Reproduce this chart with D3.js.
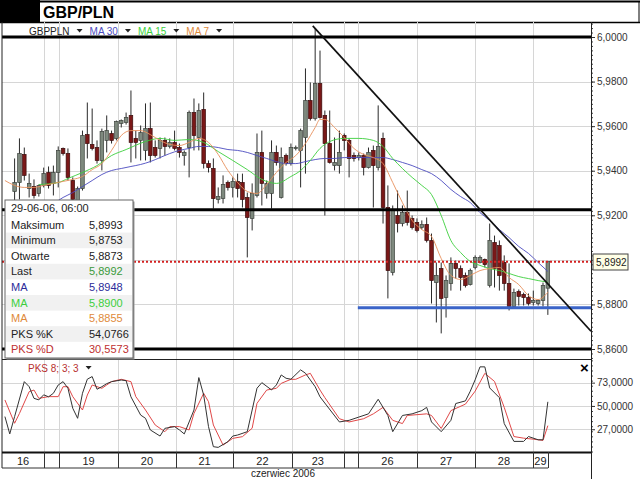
<!DOCTYPE html>
<html>
<head>
<meta charset="utf-8">
<title>GBP/PLN</title>
<script src="https://cdn.jsdelivr.net/npm/d3@7"></script>
<style>
  body { margin: 0; background: #fff; }
  svg { display: block; font-family: Arial, "Liberation Sans", sans-serif; }
</style>
</head>
<body>
<svg id="chart" width="640" height="479"></svg>
<script>
// === DANE ===
// świece 2-godzinne: [open, high, low, close], indeks = numer slotu
const candles = [
  [5.9307,5.9455,5.9253,5.9347],[5.9347,5.9545,5.9271,5.9477],[5.9473,5.9504,5.9356,5.9379],
  [5.9320,5.9387,5.9280,5.9343],[5.9329,5.9361,5.9275,5.9289],[5.9298,5.9338,5.9284,5.9334],
  [5.9334,5.9414,5.9325,5.9387],[5.9392,5.9419,5.9320,5.9334],[5.9343,5.9423,5.9289,5.9392],
  [5.9392,5.9509,5.9325,5.9491],[5.9500,5.9504,5.9468,5.9477],[5.9477,5.9500,5.9356,5.9370],
  [5.9356,5.9370,5.9244,5.9271],[5.9266,5.9329,5.9244,5.9320],[5.9320,5.9580,5.9311,5.9558],
  [5.9562,5.9706,5.9455,5.9522],[5.9518,5.9679,5.9491,5.9500],[5.9504,5.9536,5.9432,5.9446],
  [5.9446,5.9589,5.9401,5.9576],[5.9536,5.9648,5.9482,5.9580],[5.9567,5.9580,5.9522,5.9536],
  [5.9545,5.9625,5.9536,5.9621],[5.9612,5.9630,5.9594,5.9625],[5.9616,5.9661,5.9607,5.9639],
  [5.9648,5.9760,5.9437,5.9527],[5.9545,5.9580,5.9455,5.9527],[5.9536,5.9603,5.9446,5.9571],
  [5.9491,5.9702,5.9446,5.9589],[5.9589,5.9706,5.9437,5.9468],[5.9504,5.9536,5.9459,5.9468],
  [5.9500,5.9549,5.9455,5.9536],[5.9536,5.9549,5.9468,5.9509],[5.9509,5.9545,5.9500,5.9527],
  [5.9527,5.9580,5.9491,5.9500],[5.9504,5.9522,5.9459,5.9482],[5.9468,5.9491,5.9423,5.9482],
  [5.9504,5.9670,5.9370,5.9661],[5.9661,5.9724,5.9491,5.9558],[5.9549,5.9702,5.9491,5.9670],
  [5.9675,5.9751,5.9410,5.9432],[5.9432,5.9446,5.9392,5.9414],[5.9410,5.9455,5.9230,5.9275],
  [5.9271,5.9325,5.9253,5.9284],[5.9275,5.9379,5.9253,5.9338],[5.9347,5.9356,5.9311,5.9325],
  [5.9325,5.9370,5.9280,5.9352],[5.9352,5.9387,5.9280,5.9320],[5.9347,5.9387,5.9235,5.9271],
  [5.9280,5.9302,5.9011,5.9190],[5.9186,5.9343,5.9132,5.9298],[5.9289,5.9567,5.9280,5.9482],
  [5.9482,5.9580,5.9244,5.9343],[5.9298,5.9356,5.9275,5.9343],[5.9298,5.9536,5.9230,5.9482],
  [5.9482,5.9513,5.9423,5.9437],[5.9280,5.9504,5.9275,5.9459],[5.9468,5.9477,5.9423,5.9432],
  [5.9432,5.9522,5.9423,5.9504],[5.9500,5.9513,5.9491,5.9504],[5.9491,5.9589,5.9325,5.9580],
  [5.9549,5.9859,5.9387,5.9715],[5.9715,5.9796,5.9625,5.9634],[5.9634,6.0038,5.9625,5.9791],
  [5.9791,5.9939,5.9634,5.9639],[5.9648,5.9670,5.9199,5.9522],[5.9522,5.9670,5.9432,5.9437],
  [5.9423,5.9549,5.9401,5.9437],[5.9423,5.9580,5.9387,5.9482],[5.9558,5.9567,5.9491,5.9536],
  [5.9536,5.9545,5.9370,5.9455],[5.9468,5.9482,5.9441,5.9455],[5.9459,5.9482,5.9446,5.9468],
  [5.9468,5.9477,5.9379,5.9414],[5.9414,5.9504,5.9410,5.9482],[5.9491,5.9513,5.9235,5.9423],
  [5.9414,5.9693,5.9401,5.9509],[5.9545,5.9571,5.9163,5.9235],[5.9235,5.9334,5.8827,5.8952],
  [5.8943,5.9244,5.8930,5.9221],[5.9199,5.9311,5.9123,5.9163],[5.9163,5.9244,5.9150,5.9212],
  [5.9212,5.9311,5.9154,5.9168],[5.9186,5.9199,5.9136,5.9145],[5.9168,5.9186,5.9123,5.9132],
  [5.9145,5.9177,5.9136,5.9159],[5.9159,5.9190,5.9078,5.9087],[5.9087,5.9118,5.8804,5.8907],
  [5.8898,5.8988,5.8719,5.8930],[5.8961,5.8988,5.8670,5.8827],[5.8831,5.8930,5.8741,5.8907],
  [5.8894,5.9011,5.8862,5.8984],[5.8984,5.8997,5.8916,5.8961],[5.8961,5.8975,5.8862,5.8921],
  [5.8930,5.8943,5.8876,5.8885],[5.8889,5.8961,5.8885,5.8952],[5.8966,5.9020,5.8957,5.9011],
  [5.8988,5.9020,5.8984,5.9011],[5.9002,5.9006,5.8966,5.8979],[5.8885,5.9163,5.8876,5.9087],
  [5.9078,5.9109,5.8876,5.8961],[5.9064,5.9087,5.8862,5.8930],[5.8988,5.9020,5.8862,5.8894],
  [5.8894,5.8984,5.8773,5.8791],[5.8791,5.8871,5.8782,5.8853],[5.8858,5.8867,5.8795,5.8836],
  [5.8845,5.8853,5.8795,5.8831],[5.8831,5.8849,5.8795,5.8804],[5.8809,5.8862,5.8795,5.8818],
  [5.8804,5.8822,5.8795,5.8818],[5.8818,5.8898,5.8791,5.8885],[5.8873,5.8993,5.8753,5.8992]
];

// średnie kroczące: [slot, wartość]
const ma30 = [[6,5.9235],[8,5.9253],[10,5.9280],[12,5.9302],[14,5.9329],[16,5.9356],[18,5.9383],
  [20,5.9401],[22,5.9410],[24,5.9419],[26,5.9428],[28,5.9441],[30,5.9459],[32,5.9477],[34,5.9491],
  [36,5.9500],[38,5.9509],[40,5.9509],[42,5.9504],[44,5.9495],[46,5.9491],[48,5.9482],[50,5.9468],
  [52,5.9455],[54,5.9441],[56,5.9432],[58,5.9432],[60,5.9441],[62,5.9450],[64,5.9455],[66,5.9455],
  [68,5.9459],[70,5.9459],[72,5.9459],[74,5.9459],[76,5.9459],[78,5.9450],[80,5.9437],[82,5.9423],
  [84,5.9405],[86,5.9387],[88,5.9356],[90,5.9316],[92,5.9284],[94,5.9257],[96,5.9212],[98,5.9177],
  [100,5.9136],[102,5.9100],[104,5.9060],[106,5.9029],[108,5.8988],[110,5.8948]];
const ma15 = [[5,5.9338],[9,5.9347],[11,5.9365],[14,5.9392],[17,5.9423],[20,5.9468],[23,5.9495],
  [27,5.9531],[30,5.9545],[33,5.9536],[36,5.9540],[39,5.9527],[42,5.9486],[45,5.9446],[48,5.9405],
  [51,5.9361],[54,5.9343],[57,5.9374],[59,5.9401],[61,5.9446],[63,5.9500],[65,5.9531],[68,5.9545],
  [71,5.9545],[74,5.9536],[76,5.9509],[78,5.9455],[80,5.9410],[82,5.9370],[84,5.9334],[86,5.9293],
  [88,5.9199],[90,5.9087],[92,5.9033],[94,5.8993],[96,5.8975],[98,5.8961],[100,5.8952],[102,5.8939],
  [104,5.8925],[106,5.8916],[108,5.8907],[110,5.8900]];
const ma7 = [[-2,5.9356],[0,5.9334],[2,5.9325],[4,5.9325],[6,5.9334],[8,5.9343],[10,5.9352],
  [12,5.9361],[14,5.9374],[16,5.9405],[18,5.9432],[20,5.9491],[22,5.9558],[24,5.9580],[26,5.9580],
  [28,5.9562],[30,5.9536],[32,5.9518],[34,5.9513],[36,5.9527],[38,5.9545],[40,5.9527],[42,5.9473],
  [44,5.9401],[46,5.9347],[48,5.9307],[50,5.9298],[52,5.9338],[54,5.9392],[56,5.9437],[58,5.9468],
  [60,5.9522],[62,5.9594],[63,5.9630],[64,5.9630],[66,5.9594],[68,5.9549],[70,5.9500],[72,5.9473],
  [74,5.9459],[76,5.9432],[78,5.9347],[80,5.9257],[82,5.9177],[84,5.9136],[86,5.9105],[88,5.9006],
  [90,5.8930],[92,5.8912],[94,5.8930],[96,5.8952],[98,5.8961],[100,5.8966],[102,5.8921],[104,5.8889],
  [106,5.8840],[108,5.8822],[110,5.8855]];

// oscylator stochastyczny PKS 8;3;3: [slot, wartość]
const stochK = [[-2,39.5],[-1,22.4],[0,39.5],[2,74],[3,69],[4,57.5],[5,56],[6,61],[7,59],[8,62.5],
  [9,70.7],[10,74],[11,67.5],[12,47.7],[13,37.8],[14,62.5],[15,76.4],[16,79],[17,66.5],[18,69],
  [19,72],[20,74],[22,75.6],[23,75],[24,59],[26,41],[27,37.8],[28,26.3],[30,20.3],[31,27.9],
  [33,29.6],[34,26.3],[35,22.4],[37,46],[38,78],[39,60.8],[40,29.6],[41,9.8],[42,9.1],[44,14.7],
  [45,20.3],[46,21.3],[48,24.6],[49,46],[50,67.5],[51,73],[53,65.8],[54,70.7],[55,80.6],[56,77.3],
  [57,76.4],[59,85.6],[60,82.3],[62,69],[63,59],[67,34.2],[69,35.8],[71,39],[73,42.2],[75,56.6],
  [77,40.6],[78,24.6],[80,40.6],[82,42.2],[84,45.4],[85,48.6],[86,34.2],[88,24.6],[90,35.8],
  [91,52.4],[93,55],[94,64.6],[95,75.8],[96,88.6],[97,88.6],[98,67.8],[100,58.2],[101,32.6],
  [103,15],[105,15],[106,19.8],[108,16.6],[109,16.6],[110,54.08]];
const stochD = [[-2,55.9],[0,32.9],[1,42.6],[3,64.1],[4,65.7],[5,57.5],[7,59.2],[9,59.2],[10,69],
  [11,69],[12,59.2],[14,46],[15,60.8],[16,70.7],[18,67.4],[19,70.7],[20,74],[22,76.3],[24,74],
  [25,59.2],[27,46],[29,31.2],[31,24.6],[32,29.6],[34,29.6],[36,26.3],[37,42.6],[39,62.5],[40,54.2],
  [41,31.2],[43,11.4],[45,18],[47,19.7],[49,28],[50,52.6],[52,65.7],[54,67.4],[55,72.3],[57,76.3],
  [58,76.3],[60,80.6],[61,82.2],[63,65.7],[64,58.2],[67,37.4],[69,34.2],[72,37.4],[74,42.2],
  [76,48.6],[78,35.8],[80,32.6],[81,40.6],[85,42.2],[86,40.6],[88,27.8],[90,45.4],[93,51.8],
  [95,64.6],[97,82.2],[99,74.2],[101,48.6],[103,19.8],[105,18.2],[107,17.2],[109,16],[110,30.56]];

// oś czasu: dni (granice w slotach)
const dayLabels = ['16', '', '19', '20', '21', '22', '23', '', '26', '27', '28', '29'];
const dayStarts = [-2.6, 6.1, 9.2, 21.3, 33.3, 45.05, 57.2, 67.9, 70.8, 83, 95, 106.9];
const dayEnd = 110.05;
const monthLabel = 'czerwiec 2006';

const priceTicks = [6.00, 5.98, 5.96, 5.94, 5.92, 5.90, 5.88, 5.86];
const stochTicks = [73, 50, 27];

// linie narysowane przez użytkownika
const levelLines = [6.0000, 5.9225, 5.8600];
const supportLine = {from: 70.8, price: 5.8785};
const trendLine = [[61.5, 6.0050], [118.9, 5.8680]];
const lastPrice = 5.8992;

// okienko informacyjne
const infoTitle = '29-06-06, 06:00';
const infoLabels = ['Maksimum', 'Minimum', 'Otwarte', 'Last', 'MA', 'MA', 'MA', 'PKS %K', 'PKS %D'];
const infoValues = ['5,8993', '5,8753', '5,8873', '5,8992', '5,8948', '5,8900', '5,8855', '54,0766', '30,5573'];

// === KOLORY ===
const C_UP = '#7e897e', C_DOWN = '#7a1818';
const C_MA30 = '#4b4bc0', C_MA15 = '#3ccf3c', C_MA7 = '#e8905c';
const infoLabelColors = ['#222', '#222', '#222', '#222', '#2c2c9a', '#3ccf3c', '#e08a3a', '#222', '#c03030'];
const infoValueColors = ['#222', '#222', '#222', '#3a9a3a', '#2c2c9a', '#3ccf3c', '#e08a3a', '#222', '#c03030'];

const fmt = v => d3.format('.4f')(v).replace('.', ',');

// === UKŁAD ===
const L = 2, R = 591, TOP = 22, MAIN_BOTTOM = 359, ST_TOP = 360, ST_BOTTOM = 452, AX_BOTTOM = 468;

const svg = d3.select('#chart');

const x = d3.scaleLinear().domain([-2.6, 118.9]).range([L, R]);
const y = d3.scaleLinear().domain([5.86, 6.00]).range([349, 37]);
const ys = d3.scaleLinear().domain([0, 100]).range([456.6, 355.3]);

const defs = svg.append('defs');
defs.append('clipPath').attr('id', 'clip-main')
  .append('rect').attr('x', L).attr('y', TOP).attr('width', R - L).attr('height', MAIN_BOTTOM - TOP);
defs.append('clipPath').attr('id', 'clip-stoch')
  .append('rect').attr('x', L).attr('y', ST_TOP).attr('width', R - L).attr('height', ST_BOTTOM - ST_TOP);

// --- nagłówek ---
svg.append('rect').attr('x', 0).attr('y', 0).attr('width', 40).attr('height', 22).attr('fill', '#000');
svg.append('line').attr('x1', 40).attr('x2', 640).attr('y1', 1.5).attr('y2', 1.5).attr('stroke', '#000').attr('stroke-width', 2);
svg.append('line').attr('x1', 639).attr('x2', 639).attr('y1', 1).attr('y2', 22).attr('stroke', '#000');
svg.append('text').attr('x', 43).attr('y', 18).attr('font-size', 16).attr('font-weight', 'bold').text('GBP/PLN');
svg.append('line').attr('x1', 0).attr('x2', 640).attr('y1', 22.5).attr('y2', 22.5).attr('stroke', '#000').attr('stroke-width', 1.5);

// --- siatka ---
const grid = svg.append('g').attr('stroke', '#d6d6d6').attr('stroke-width', 1);
grid.selectAll('.hg').data(priceTicks).enter().append('line')
  .attr('x1', L).attr('x2', R).attr('y1', d => Math.round(y(d)) + 0.5).attr('y2', d => Math.round(y(d)) + 0.5);
grid.selectAll('.hs').data(stochTicks).enter().append('line')
  .attr('x1', L).attr('x2', R).attr('y1', d => Math.round(ys(d)) + 0.5).attr('y2', d => Math.round(ys(d)) + 0.5);
const boundaries = dayStarts.slice(1);
grid.selectAll('.vg').data(boundaries).enter().append('line')
  .attr('x1', d => Math.round(x(d)) + 0.5).attr('x2', d => Math.round(x(d)) + 0.5)
  .attr('y1', TOP).attr('y2', MAIN_BOTTOM);
grid.selectAll('.vs').data(boundaries).enter().append('line')
  .attr('x1', d => Math.round(x(d)) + 0.5).attr('x2', d => Math.round(x(d)) + 0.5)
  .attr('y1', ST_TOP).attr('y2', ST_BOTTOM);

// --- świece ---
const main = svg.append('g').attr('clip-path', 'url(#clip-main)');
const cdata = candles.map((d, i) => ({i, o: d[0], h: d[1], l: d[2], c: d[3]}));
main.selectAll('.wick').data(cdata).enter().append('line')
  .attr('x1', d => x(d.i)).attr('x2', d => x(d.i))
  .attr('y1', d => y(d.h)).attr('y2', d => y(d.l))
  .attr('stroke', '#2a2a2a').attr('stroke-width', 1);
main.selectAll('.body').data(cdata).enter().append('rect')
  .attr('x', d => x(d.i) - 1.8).attr('width', 3.6)
  .attr('y', d => y(Math.max(d.o, d.c)))
  .attr('height', d => Math.max(1, Math.abs(y(d.o) - y(d.c))))
  .attr('fill', d => d.c >= d.o ? C_UP : C_DOWN)
  .attr('stroke', d => d.c >= d.o ? '#3c423c' : '#3a0a0a')
  .attr('stroke-width', 0.7);

// --- średnie ---
const maLine = d3.line().x(d => x(d[0])).y(d => y(d[1])).curve(d3.curveMonotoneX);
[[ma30, C_MA30], [ma15, C_MA15], [ma7, C_MA7]].forEach(([s, col]) => {
  main.append('path').datum(s).attr('d', maLine)
    .attr('fill', 'none').attr('stroke', col).attr('stroke-width', 1).attr('opacity', 0.9);
});

// --- linie użytkownika ---
main.selectAll('.lvl').data(levelLines).enter().append('line')
  .attr('x1', L).attr('x2', R).attr('y1', d => y(d)).attr('y2', d => y(d))
  .attr('stroke', '#000').attr('stroke-width', 3);
main.append('line')
  .attr('x1', x(supportLine.from)).attr('x2', R)
  .attr('y1', y(supportLine.price)).attr('y2', y(supportLine.price))
  .attr('stroke', '#3b64c8').attr('stroke-width', 3);
main.append('line')
  .attr('x1', L).attr('x2', R).attr('y1', y(lastPrice)).attr('y2', y(lastPrice))
  .attr('stroke', '#d42020').attr('stroke-width', 2).attr('stroke-dasharray', '2,2');
main.append('line')
  .attr('x1', x(trendLine[0][0])).attr('y1', y(trendLine[0][1]))
  .attr('x2', x(trendLine[1][0])).attr('y2', y(trendLine[1][1]))
  .attr('stroke', '#111').attr('stroke-width', 1.7);

// --- legenda ---
function legend(items, x0, yb) {
  let cx = x0;
  items.forEach(it => {
    const t = svg.append('text').attr('x', cx).attr('y', yb).attr('font-size', 10)
      .attr('fill', it.color).text(it.text);
    cx += t.node().getComputedTextLength() + 7;
    svg.append('path').attr('d', `M${cx},${yb - 6}h6l-3,3.5z`).attr('fill', it.arrow || '#222');
    cx += 13;
  });
}
legend([
  {text: 'GBPPLN', color: '#222'},
  {text: 'MA 30', color: C_MA30},
  {text: 'MA 15', color: C_MA15},
  {text: 'MA 7', color: '#e08a3a'}
], 29, 35);

// --- oś cen ---
const yFull = y.copy().domain([y.invert(MAIN_BOTTOM), y.invert(TOP)]).range([MAIN_BOTTOM, TOP]);
svg.append('g').attr('transform', `translate(${R},0)`)
  .call(d3.axisRight(yFull).ticks(75).tickSize(2).tickFormat(''))
  .call(g => g.select('.domain').remove())
  .call(g => g.selectAll('line').attr('stroke', '#444'));
// etykieta 5,9000 jest zasłonięta przez znacznik ostatniej ceny
svg.append('g').attr('transform', `translate(${R},0)`)
  .call(d3.axisRight(y).tickValues(priceTicks.filter(p => Math.abs(p - lastPrice) > 0.004)).tickSize(4).tickFormat(fmt))
  .call(g => g.select('.domain').remove())
  .call(g => g.selectAll('line').attr('stroke', '#333'))
  .call(g => g.selectAll('text').attr('font-size', 10).attr('fill', '#333')
    .attr('font-family', 'Arial, "Liberation Sans", sans-serif').attr('x', 6));

// --- panel stochastyczny ---
const st = svg.append('g').attr('clip-path', 'url(#clip-stoch)');
const stLine = d3.line().x(d => x(d[0])).y(d => ys(d[1]));
st.append('path').datum(stochD).attr('d', stLine).attr('fill', 'none').attr('stroke', '#e04848').attr('stroke-width', 1);
st.append('path').datum(stochK).attr('d', stLine).attr('fill', 'none').attr('stroke', '#333').attr('stroke-width', 1);

const ysFull = ys.copy().domain([ys.invert(ST_BOTTOM), ys.invert(ST_TOP)]).range([ST_BOTTOM, ST_TOP]);
svg.append('g').attr('transform', `translate(${R},0)`)
  .call(d3.axisRight(ysFull).ticks(20).tickSize(2).tickFormat(''))
  .call(g => g.select('.domain').remove())
  .call(g => g.selectAll('line').attr('stroke', '#444'));
svg.append('g').attr('transform', `translate(${R},0)`)
  .call(d3.axisRight(ys).tickValues(stochTicks).tickSize(4).tickFormat(fmt))
  .call(g => g.select('.domain').remove())
  .call(g => g.selectAll('line').attr('stroke', '#333'))
  .call(g => g.selectAll('text').attr('font-size', 10).attr('fill', '#333')
    .attr('font-family', 'Arial, "Liberation Sans", sans-serif').attr('x', 6));

legend([{text: 'PKS 8; 3; 3', color: '#b83030', arrow: '#222'}], 28, 372);
svg.append('text').attr('x', 580).attr('y', 373).attr('font-size', 15).attr('font-weight', 'bold').text('×');

// --- ramki ---
svg.append('line').attr('x1', L).attr('x2', R).attr('y1', MAIN_BOTTOM + 0.5).attr('y2', MAIN_BOTTOM + 0.5)
  .attr('stroke', '#222').attr('stroke-width', 1.2);
svg.append('line').attr('x1', L).attr('x2', L).attr('y1', TOP).attr('y2', AX_BOTTOM).attr('stroke', '#222');
svg.append('line').attr('x1', R + 0.5).attr('x2', R + 0.5).attr('y1', TOP).attr('y2', 479).attr('stroke', '#222');

// --- oś czasu ---
const ax = svg.append('g');
ax.append('line').attr('x1', L).attr('x2', R).attr('y1', ST_BOTTOM + 0.5).attr('y2', ST_BOTTOM + 0.5)
  .attr('stroke', '#111').attr('stroke-width', 2);
ax.append('line').attr('x1', L).attr('x2', x(dayEnd)).attr('y1', AX_BOTTOM).attr('y2', AX_BOTTOM)
  .attr('stroke', '#333');
const sepX = dayStarts.slice(1).concat([dayEnd]);
ax.selectAll('.sep').data(sepX).enter().append('line')
  .attr('x1', d => Math.round(x(d)) + 0.5).attr('x2', d => Math.round(x(d)) + 0.5)
  .attr('y1', ST_BOTTOM).attr('y2', AX_BOTTOM).attr('stroke', '#333');
ax.selectAll('.dl').data(dayLabels.map((t, i) => ({t, a: dayStarts[i], b: i + 1 < dayStarts.length ? dayStarts[i + 1] : dayEnd})))
  .enter().append('text')
  .attr('x', d => (x(d.a) + x(d.b)) / 2).attr('y', 465).attr('text-anchor', 'middle')
  .attr('font-size', 11).attr('fill', '#222').text(d => d.t);
ax.append('text').attr('x', 283).attr('y', 477).attr('text-anchor', 'middle')
  .attr('font-size', 10).attr('fill', '#222').text(monthLabel);

// --- etykieta ostatniej ceny ---
const lp = svg.append('g').attr('transform', `translate(593,${Math.round(y(lastPrice)) - 8})`);
lp.append('rect').attr('width', 35).attr('height', 16).attr('fill', '#ffffe6').attr('stroke', '#444');
lp.append('text').attr('x', 3).attr('y', 12).attr('font-size', 10).attr('fill', '#222').text(fmt(lastPrice));

// --- okienko informacyjne ---
const box = svg.append('g').attr('transform', 'translate(5,200)');
box.append('rect').attr('x', 1.5).attr('y', 1.5).attr('width', 128).attr('height', 158).attr('fill', '#9a9a9a');
box.append('rect').attr('width', 128).attr('height', 158).attr('fill', '#fff').attr('stroke', '#666');
box.append('text').attr('x', 6).attr('y', 12).attr('font-size', 11).attr('fill', '#222').text(infoTitle);
const rowH = 15.6;
infoLabels.forEach((lab, i) => {
  const ry = 17 + i * rowH;
  if (i % 2 === 1) box.append('rect').attr('x', 1).attr('y', ry).attr('width', 126).attr('height', rowH).attr('fill', '#f1f1f1');
  box.append('text').attr('x', 6).attr('y', ry + 11.5).attr('font-size', 11).attr('fill', infoLabelColors[i]).text(lab);
  box.append('text').attr('x', 84).attr('y', ry + 11.5).attr('font-size', 11).attr('fill', infoValueColors[i]).text(infoValues[i]);
});
</script>
</body>
</html>
